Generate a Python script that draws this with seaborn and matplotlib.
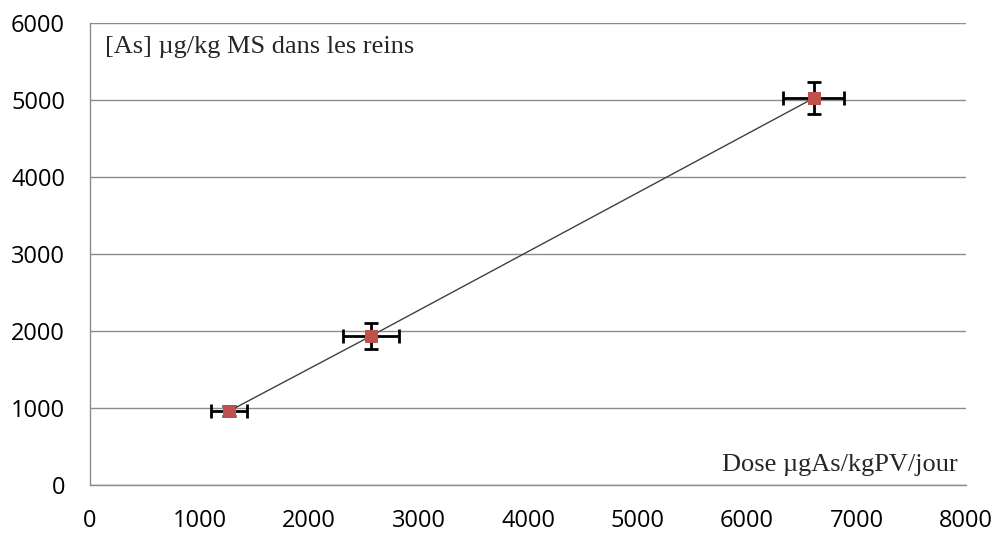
import matplotlib
matplotlib.use("Agg")
import matplotlib.pyplot as plt
import pandas as pd
import seaborn as sns

# dose (x) vs kidney As concentration (y), with error bars
dose = [1270, 2565, 6610]
conc = [960, 1935, 5025]
dose_err = [165, 255, 280]
conc_err = [60, 175, 210]

df = pd.DataFrame({"dose": dose, "conc": conc})

sns.set_style("white")
plt.rcParams["font.family"] = ["Open Sans", "DejaVu Sans"]

fig = plt.figure(figsize=(9.97, 5.43), dpi=100)
ax = fig.add_axes([0.0903, 0.1068, 0.8786, 0.8508])

grey = "#8c8c8c"
ax.yaxis.grid(True, color=grey, linewidth=1)
ax.set_axisbelow(True)

sns.lineplot(data=df, x="dose", y="conc", sort=False, color="#404040",
             linewidth=1, ax=ax, zorder=2)
ax.errorbar(dose, conc, xerr=dose_err, yerr=conc_err, fmt="none",
            ecolor="black", elinewidth=2, capsize=5, capthick=2, zorder=3)
sns.scatterplot(data=df, x="dose", y="conc", marker="s", s=80,
                color="#c0504d", edgecolor="#c0504d", ax=ax, zorder=4)

ax.set_xlim(0, 8000)
ax.set_ylim(0, 6000)
ax.set_xticks(range(0, 8001, 1000))
ax.set_yticks(range(0, 6001, 1000))
ax.set_xlabel("")
ax.set_ylabel("")

for side in ("top", "right"):
    ax.spines[side].set_visible(False)
for side in ("left", "bottom"):
    ax.spines[side].set_color(grey)
    ax.spines[side].set_linewidth(1)

ax.tick_params(axis="both", direction="out", colors=grey, labelcolor="black",
               labelsize=17, length=6, width=1)
ax.tick_params(axis="x", pad=11)
ax.tick_params(axis="y", pad=12)

serif = ["Liberation Serif", "DejaVu Serif"]
ax.text(0.017, 0.948, "[As] µg/kg MS dans les reins", transform=ax.transAxes,
        ha="left", va="center", fontsize=19, family=serif)
ax.text(0.991, 0.043, "Dose µgAs/kgPV/jour", transform=ax.transAxes,
        ha="right", va="center", fontsize=19, family=serif)

fig.savefig("out.png", dpi=100)
